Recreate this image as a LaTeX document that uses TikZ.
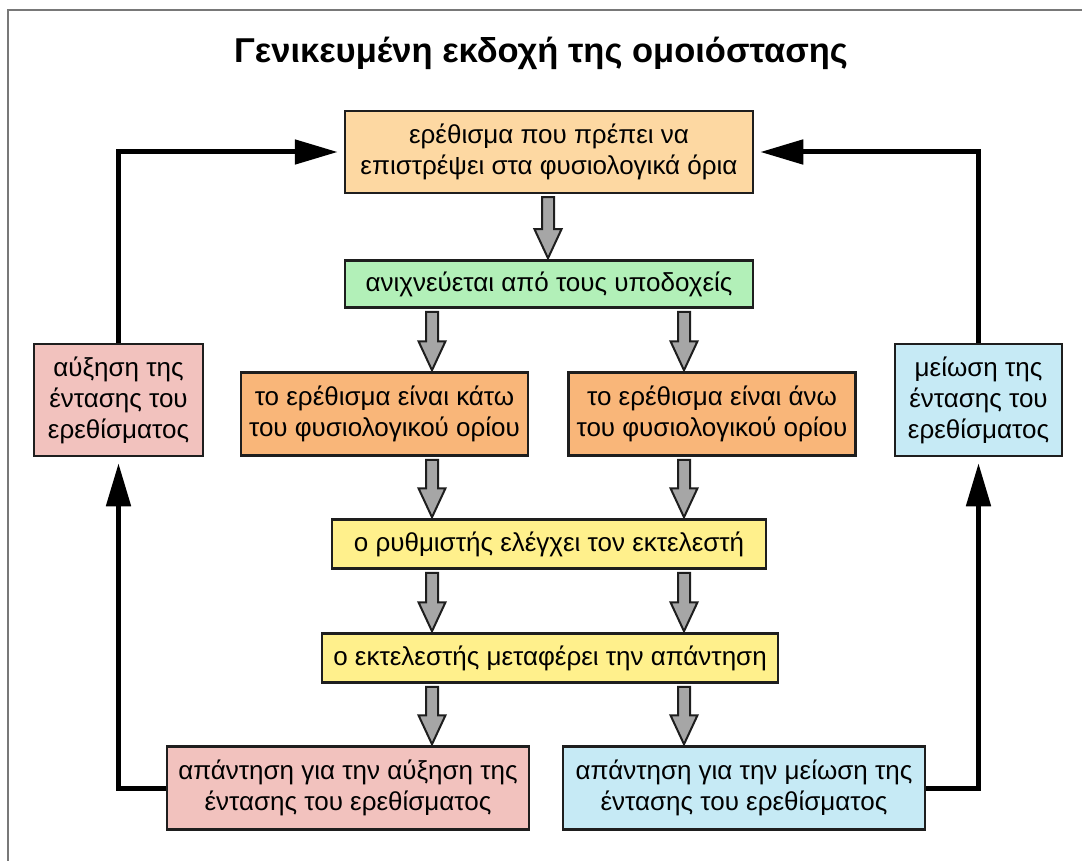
\documentclass[tikz,border=0pt]{standalone}
\usepackage{fontspec}
\setmainfont{Liberation Sans}
\usepackage{xcolor}
\usepackage{tikz}
\usetikzlibrary{arrows.meta, positioning, calc}
\definecolor{framegray}{RGB}{120, 120, 120}
\definecolor{boxborder}{RGB}{30, 30, 30}
\definecolor{stimcolor}{RGB}{253, 216, 162}
\definecolor{detcolor}{RGB}{178, 240, 184}
\definecolor{limcolor}{RGB}{249, 182, 121}
\definecolor{ctrlcolor}{RGB}{255, 240, 140}
\definecolor{upcolor}{RGB}{242, 194, 190}
\definecolor{downcolor}{RGB}{198, 234, 245}
\definecolor{arrgray}{RGB}{166, 166, 166}

% gray block arrow: column, upper box, lower box
\newcommand\grayarrow[3]{%
  \filldraw[garr] ($(#1 |- #2.south)+(-6,3)$) -- ($(#1 |- #2.south)+(6,3)$)
    -- ($(#1 |- #3.north)+(6,-30)$) -- ($(#1 |- #3.north)+(13.5,-30)$)
    -- ($(#1 |- #3.north)+(0,-1)$) -- ($(#1 |- #3.north)+(-13.5,-30)$)
    -- ($(#1 |- #3.north)+(-6,-30)$) -- cycle;}

\begin{document}
\begin{tikzpicture}[
    x=1pt, y=-1pt,
    box/.style={draw=boxborder, line width=2.5pt, inner sep=0pt, align=center,
                font=\fontsize{26}{31}\selectfont},
    stimbox/.style={box, fill=stimcolor, minimum width=408pt, minimum height=82pt},
    detbox/.style={box, fill=detcolor, minimum width=408pt, minimum height=47pt},
    limbox/.style={box, fill=limcolor, minimum width=287pt, minimum height=83pt},
    ctrlbox/.style={box, fill=ctrlcolor, minimum height=49pt},
    upbox/.style={box, fill=upcolor, minimum height=83pt},
    downbox/.style={box, fill=downcolor, minimum height=83pt},
    loop/.style={-{Triangle[length=43pt, width=24pt]}, line width=5pt,
                 color=black, shorten >=6pt},
    garr/.style={fill=arrgray, draw=boxborder, line width=2pt, line join=miter},
    frame/.style={draw=framegray, line width=1.5pt},
]
\useasboundingbox (0,0) rectangle (1082,861);
\draw[frame] (8,861) -- (8,10) -- (1082,10);

% --- Title ---
\node[font=\bfseries\fontsize{34.5}{38}\selectfont] (title) at (541,53)
  {Γενικευμένη εκδοχή της ομοιόστασης};

% --- Main column ---
\node[stimbox] (stim) at (549,152)
  {ερέθισμα που πρέπει να\\επιστρέψει στα φυσιολογικά όρια};
\node[detbox, below=65pt of stim] (detect) {ανιχνεύεται από τους υποδοχείς};
\node[limbox, below=62.5pt of detect, xshift=-164.5pt] (low)
  {το ερέθισμα είναι κάτω\\του φυσιολογικού ορίου};
\node[limbox, below=62.5pt of detect, xshift=163pt] (high)
  {το ερέθισμα είναι άνω\\του φυσιολογικού ορίου};
\node[ctrlbox, minimum width=434pt, below=61.5pt of low, xshift=164.5pt] (ctrl)
  {ο ρυθμιστής ελέγχει τον εκτελεστή};
\node[ctrlbox, minimum width=456pt, below=62.5pt of ctrl, xshift=1pt] (eff)
  {ο εκτελεστής μεταφέρει την απάντηση};
\node[upbox, minimum width=362pt, below=61.5pt of eff, xshift=-202pt] (resp_up)
  {απάντηση για την αύξηση της\\έντασης του ερεθίσματος};
\node[downbox, minimum width=362pt, below=61.5pt of eff, xshift=194pt] (resp_down)
  {απάντηση για την μείωση της\\έντασης του ερεθίσματος};

% --- Side boxes ---
\node[upbox, minimum width=169pt, minimum height=112pt] (inc) at (118.5,400)
  {αύξηση της\\έντασης του\\ερεθίσματος};
\node[downbox, minimum width=167pt, minimum height=112pt] (dec) at (978.5,400)
  {μείωση της\\έντασης του\\ερεθίσματος};

% --- Gray arrows ---
\coordinate (col_m) at (548,0);
\coordinate (col_l) at (432,0);
\coordinate (col_r) at (684,0);
\grayarrow{col_m}{stim}{detect}
\grayarrow{col_l}{detect}{low}
\grayarrow{col_r}{detect}{high}
\grayarrow{col_l}{low}{ctrl}
\grayarrow{col_r}{high}{ctrl}
\grayarrow{col_l}{ctrl}{eff}
\grayarrow{col_r}{ctrl}{eff}
\grayarrow{col_l}{eff}{resp_up}
\grayarrow{col_r}{eff}{resp_down}

% --- Feedback loops ---
\draw[loop] (resp_up.west) -| (inc.south);
\draw[loop] (inc.north) |- (stim.west);
\draw[loop] (resp_down.east) -| (dec.south);
\draw[loop] (dec.north) |- (stim.east);

\end{tikzpicture}
\end{document}
